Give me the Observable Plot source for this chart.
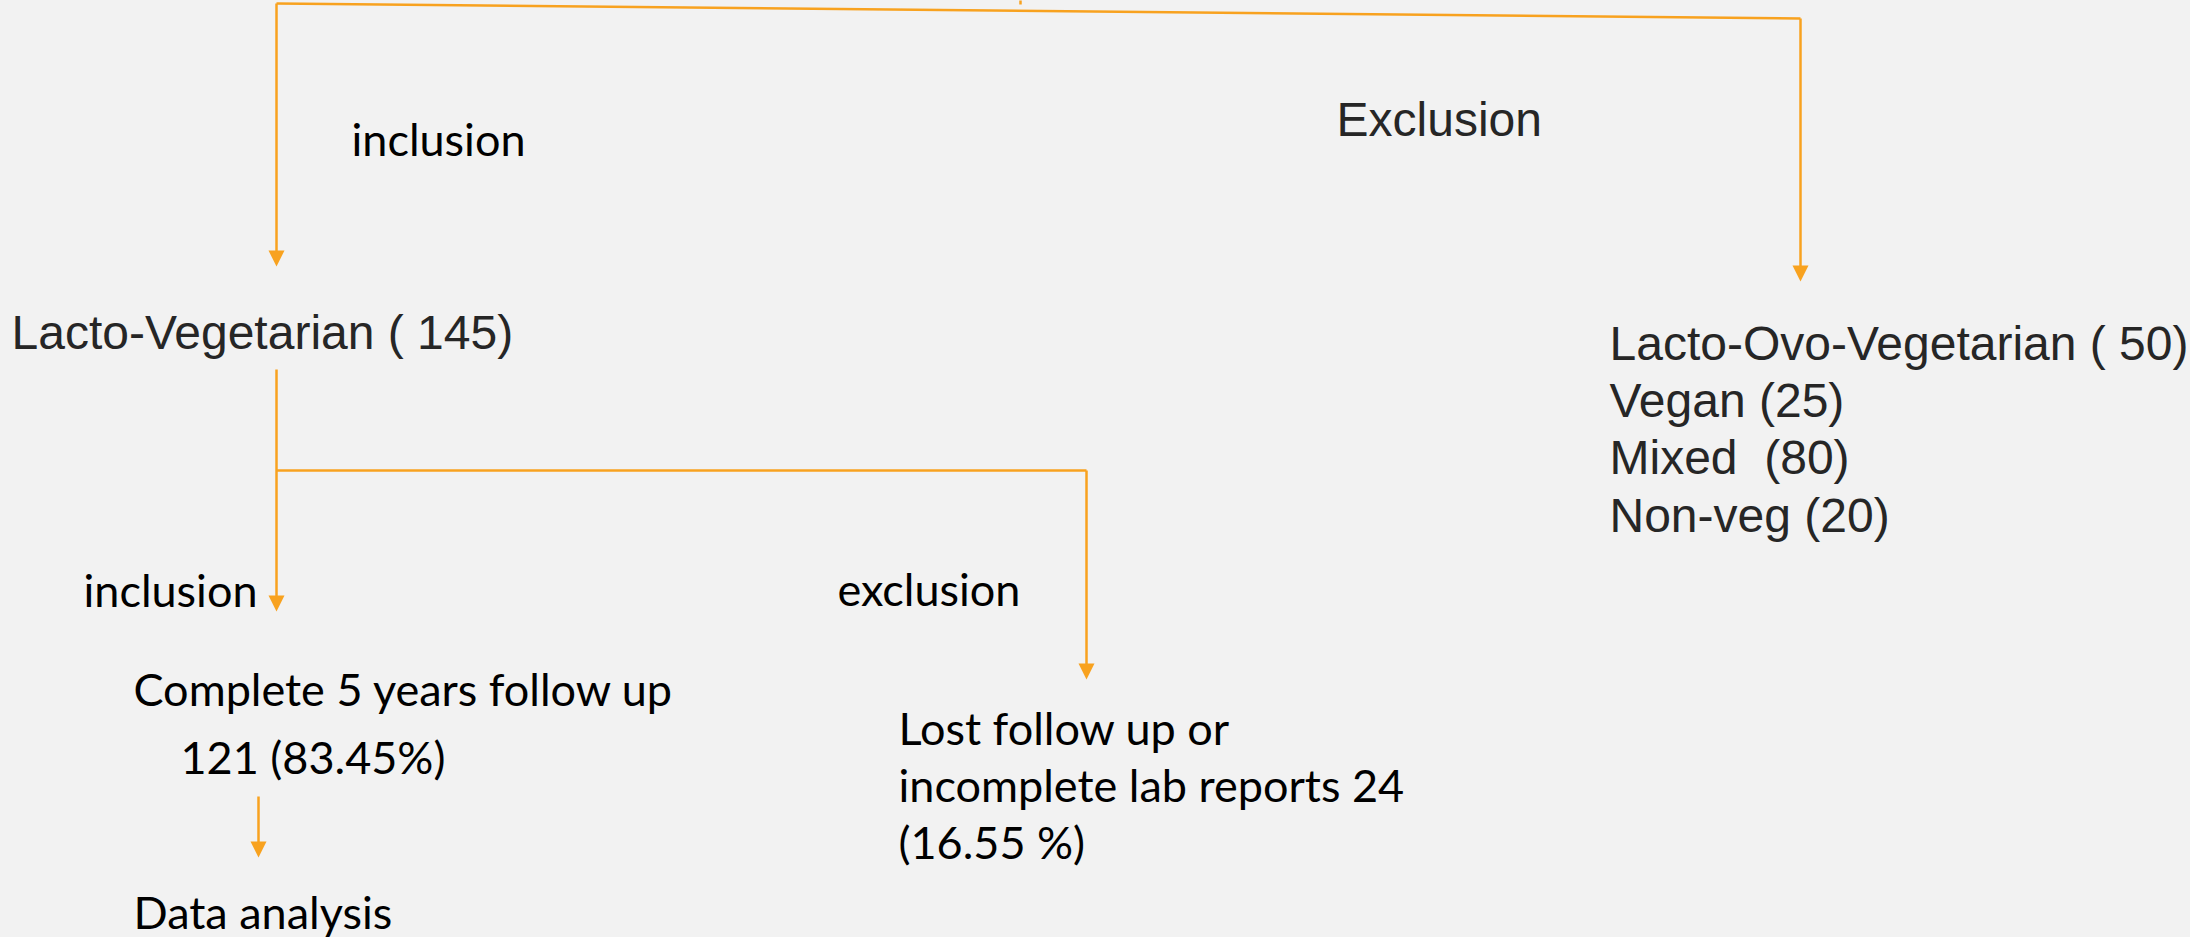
<!DOCTYPE html>
<html>
<head>
<meta charset="utf-8">
<script src="https://cdn.jsdelivr.net/npm/d3@7"></script>
<script src="https://cdn.jsdelivr.net/npm/@observablehq/plot@0.6"></script>
<style>
  html, body { margin: 0; padding: 0; background: #F2F2F2; overflow: hidden; }
  svg text { white-space: pre; }
</style>
</head>
<body>
<div id="chart"></div>
<script>
// ---- Flowchart content ----
const labelText = [
  "inclusion", "Exclusion", "Lacto-Vegetarian ( 145)",
  "Lacto-Ovo-Vegetarian ( 50)", "Vegan (25)", "Mixed  (80)", "Non-veg (20)",
  "inclusion", "exclusion",
  "Complete 5 years follow up", "121 (83.45%)", "Data analysis",
  "Lost follow up or", "incomplete lab reports 24", "(16.55 %)"
];
const labelFace = [
  "gill", "sans", "sans",
  "sans", "sans", "sans", "sans",
  "gill", "gill",
  "gill", "gill", "gill",
  "gill", "gill", "gill"
];
// layout (baseline positions in pixels)
const labelX = [351, 1336, 11, 1609, 1609, 1609, 1609, 83, 837, 133, 180, 133, 898, 898, 898];
const labelY = [155, 135, 348, 359, 416, 473, 531, 606, 605, 705, 773, 928, 744, 801, 858];

// connectors
const linkX1 = [276, 276, 1800, 1020, 276, 276, 1086, 258];
const linkY1 = [3, 3, 18, 0, 369, 470, 470, 796];
const linkX2 = [1800, 276, 1800, 1020, 276, 1086, 1086, 258];
const linkY2 = [18, 254, 268, 4, 598, 470, 666, 844];
// arrow tips
const tipX = [276, 1800, 276, 1086, 258];
const tipY = [266, 281, 611, 679, 857];

const labels = labelText.map((t, i) => ({text: t, face: labelFace[i], x: labelX[i], y: labelY[i]}));
const links = linkX1.map((x1, i) => ({x1, y1: linkY1[i], x2: linkX2[i], y2: linkY2[i]}));
const tips = tipX.map((x, i) => ({x, y: tipY[i]}));

const orange = "#F8A21F";
const arrowHead = {
  draw(ctx, size) {
    ctx.moveTo(-8, -16);
    ctx.lineTo(8, -16);
    ctx.lineTo(0, 0);
    ctx.closePath();
  }
};

const chart = Plot.plot({
  width: 2190,
  height: 937,
  margin: 0,
  x: {domain: [0, 2190], range: [0, 2190], axis: null},
  y: {domain: [0, 937], range: [0, 937], axis: null},
  style: {background: "#F2F2F2"},
  marks: [
    Plot.link(links, {x1: "x1", y1: "y1", x2: "x2", y2: "y2", stroke: orange, strokeWidth: 2.5}),
    Plot.dot(tips, {x: "x", y: "y", symbol: arrowHead, fill: orange, stroke: "none", r: 5}),
    Plot.text(labels.filter(d => d.face === "sans"), {
      x: "x", y: "y", text: "text", textAnchor: "start", lineAnchor: "bottom",
      fontFamily: "Liberation Sans, Arial, sans-serif", fontSize: 48, fill: "#262626"
    }),
    Plot.text(labels.filter(d => d.face === "gill"), {
      x: "x", y: "y", text: "text", textAnchor: "start", lineAnchor: "bottom",
      fontFamily: "Lato, sans-serif", fontSize: 45, fill: "#000000"
    })
  ]
});
document.getElementById("chart").appendChild(chart);
</script>
</body>
</html>
